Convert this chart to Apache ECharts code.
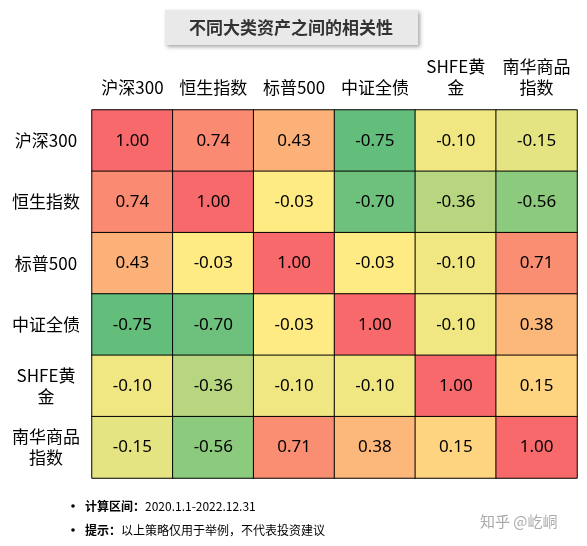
<!DOCTYPE html>
<html><head><meta charset="utf-8">
<script src="https://cdn.jsdelivr.net/npm/echarts@6/dist/echarts.min.js"></script>
<style>body{margin:0;background:#fff}#c{width:587px;height:546px}</style></head>
<body><div id="c"></div>
<script>
const colLabels = ['沪深300','恒生指数','标普500','中证全债','SHFE黄\n金','南华商品\n指数'];
const rowLabels = ['沪深300','恒生指数','标普500','中证全债','SHFE黄\n金','南华商品\n指数'];
const matrix = [
 [1.00,0.74,0.43,-0.75,-0.10,-0.15],
 [0.74,1.00,-0.03,-0.70,-0.36,-0.56],
 [0.43,-0.03,1.00,-0.03,-0.10,0.71],
 [-0.75,-0.70,-0.03,1.00,-0.10,0.38],
 [-0.10,-0.36,-0.10,-0.10,1.00,0.15],
 [-0.15,-0.56,0.71,0.38,0.15,1.00]
];
const title = '不同大类资产之间的相关性';
const note1 = '计算区间：2020.1.1-2022.12.31';
const note2 = '提示：以上策略仅用于举例，不代表投资建议';

const GREEN=[99,190,123], YEL=[255,235,132], RED=[248,105,107];
const vmin=-0.75, vmid=-0.03, vmax=1.00;
function mix(a,b,t){return 'rgb('+a.map((x,i)=>Math.round(x+(b[i]-x)*t)).join(',')+')';}
function colorOf(v){ return v<=vmid ? mix(GREEN,YEL,(v-vmin)/(vmid-vmin)) : mix(YEL,RED,(v-vmid)/(vmax-vmid)); }

const data=[];
matrix.forEach((row,r)=>row.forEach((v,c)=>data.push({value:[c,r,v],itemStyle:{color:colorOf(v)}})));

const ch=echarts.init(document.getElementById('c'));
ch.setOption({
 animation:false,
 graphic:[
  {type:'rect',shape:{x:165,y:10,width:253,height:35},style:{fill:'#e9e9e9',shadowBlur:4,shadowOffsetX:2,shadowOffsetY:2,shadowColor:'rgba(0,0,0,0.35)'}},
  {type:'text',x:291,y:28,style:{text:title,font:'bold 17px "Noto Sans CJK SC"',fill:'#333',align:'center',verticalAlign:'middle'}},
  {type:'circle',shape:{cx:73,cy:506,r:1.8},style:{fill:'#000'}},
  {type:'text',x:85,y:506,style:{rich:{b:{font:'bold 12px "Noto Sans CJK SC"',fill:'#000'},n:{font:'12px "Noto Sans CJK SC"',fill:'#000'}},text:'{b|计算区间：}{n|'+note1.split('：')[1]+'}',verticalAlign:'middle'}},
  {type:'circle',shape:{cx:73,cy:530,r:1.8},style:{fill:'#000'}},
  {type:'text',x:85,y:530,style:{rich:{b:{font:'bold 12px "Noto Sans CJK SC"',fill:'#000'},n:{font:'12px "Noto Sans CJK SC"',fill:'#000'}},text:'{b|提示：}{n|'+note2.split('：')[1]+'}',verticalAlign:'middle'}},
  {type:'text',x:480,y:521,style:{text:'知乎 @屹峒',font:'15px "Noto Sans CJK SC"',fill:'#aaa',verticalAlign:'middle'}}
 ],
 grid:{left:92,right:10,top:110,bottom:68},
 xAxis:{type:'category',position:'top',data:colLabels,axisLine:{show:false},axisTick:{show:false},splitLine:{show:false},
   axisLabel:{fontSize:17,color:'#000',fontFamily:'Noto Sans CJK SC',lineHeight:21,margin:12,interval:0}},
 yAxis:{type:'category',inverse:true,data:rowLabels,axisLine:{show:false},axisTick:{show:false},
   axisLabel:{fontSize:17,color:'#000',fontFamily:'Noto Sans CJK SC',lineHeight:21,margin:4,align:'center',padding:[0,0,0,0],
   formatter:v=>v},},
 series:[{type:'heatmap',data:data,itemStyle:{borderColor:'#000',borderWidth:1},
   label:{show:true,fontSize:17,color:'#000',fontFamily:'Noto Sans',formatter:p=>p.value[2].toFixed(2)}}]
});
// center y labels within left margin
ch.setOption({yAxis:{axisLabel:{margin:46}}});
</script></body></html>
